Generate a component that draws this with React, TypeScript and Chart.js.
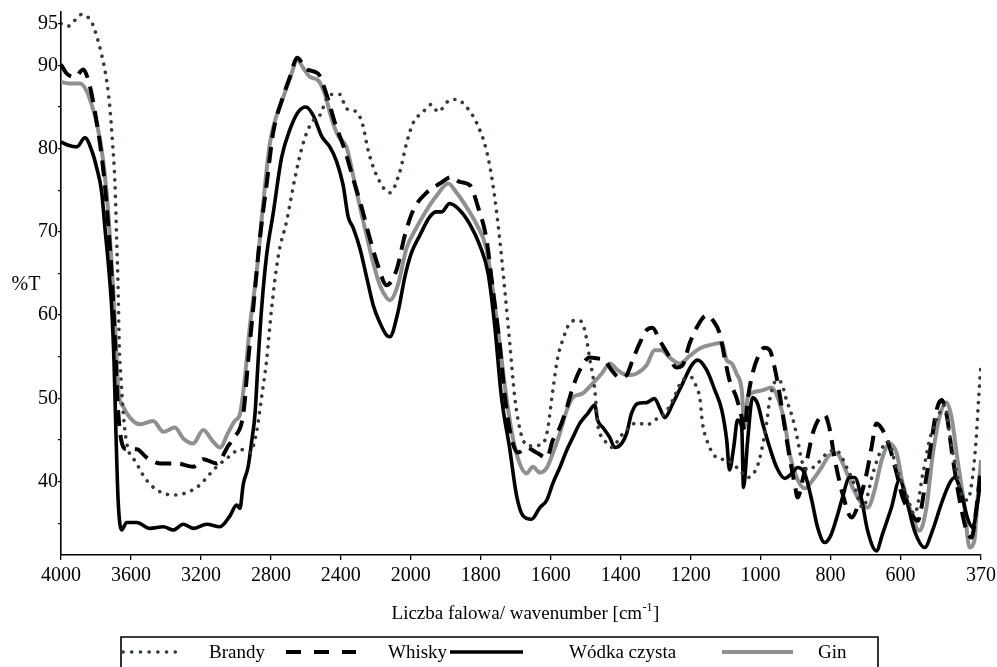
import React, { useEffect, useRef } from 'react';
import { Chart, registerables } from 'chart.js';

Chart.register(...registerables);

// ---- Data (wavenumber in cm-1, transmittance in %T) ----
const brandyWn = [4000,3960,3882,3825,3796,3767,3739,3720,3705,3691,3682,3673,3667,3657,3634,3567,3491,3358,3225,3110,3034,2977,2920,2882,2853,2825,2796,2758,2710,2663,2616,2568,2520,2463,2406,2368,2310,2273,2244,2196,2120,2063,2025,1993,1965,1941,1922,1893,1869,1841,1812,1784,1765,1746,1731,1717,1703,1684,1660,1631,1611,1594,1580,1566,1546,1523,1509,1497,1489,1474,1466,1454,1440,1423,1403,1383,1354,1326,1303,1274,1251,1223,1197,1183,1174,1166,1154,1126,1097,1060,1037,1011,997,983,974,954,940,926,909,894,883,866,837,811,789,774,754,737,708,679,660,636,612,584,560,536,517,489,474,460,441,422,408,393,384,377,371];
const brandyT = [95.0,94.7,96.1,95.2,93.5,91.2,88.2,84.8,80.6,75.6,69.2,62.9,56.6,52.4,46.0,42.2,39.7,38.4,39.3,41.8,43.1,43.9,43.5,46.0,50.2,54.5,60.8,67.1,71.3,76.4,80.6,83.1,84.0,86.5,86.5,84.8,84.4,82.7,79.8,76.8,74.7,77.2,80.6,83.1,84.4,85.3,84.4,85.7,85.9,85.0,83.1,79.8,75.6,69.2,62.9,56.6,50.2,45.6,44.3,44.4,45.8,51.0,54.9,57.0,59.0,59.4,59.0,57.0,54.9,51.0,47.0,45.3,44.7,44.1,45.3,46.2,47.1,46.8,47.4,48.2,49.8,52.2,52.5,51.3,50.1,47.0,45.0,42.9,42.6,41.4,40.5,41.7,43.8,47.0,49.8,52.2,51.8,49.8,47.7,45.0,42.6,41.4,42.2,43.4,43.8,43.4,41.7,40.2,36.9,41.0,43.4,44.8,41.7,38.6,36.1,41.0,45.0,48.2,49.2,45.8,41.4,38.1,37.8,41.0,45.0,49.8,53.6];

const whiskyWn = [4000,3967,3920,3873,3834,3806,3777,3749,3724,3705,3691,3678,3663,3625,3567,3510,3434,3339,3244,3187,3110,3044,3015,2958,2930,2901,2863,2825,2787,2739,2691,2650,2596,2530,2482,2434,2377,2330,2282,2234,2187,2139,2082,2034,1993,1955,1917,1884,1860,1831,1808,1784,1765,1746,1731,1712,1693,1669,1641,1611,1594,1574,1554,1537,1517,1489,1466,1446,1426,1403,1383,1366,1346,1326,1309,1289,1266,1240,1223,1203,1183,1154,1137,1117,1103,1089,1069,1054,1046,1037,1023,1003,989,974,960,946,931,917,903,894,880,866,851,831,817,803,789,766,740,717,697,683,669,651,631,611,594,569,551,531,511,497,483,469,451,431,411,397,383,371];
const whiskyT = [90.1,89.0,88.6,89.5,87.4,84.4,80.6,75.6,69.2,62.9,56.6,50.2,46.0,43.9,43.9,42.9,42.2,42.2,41.8,42.7,42.2,44.3,45.2,48.1,54.5,60.8,69.2,75.6,81.9,85.7,88.6,90.9,89.5,89.0,86.5,83.1,79.8,76.4,73.0,69.2,65.9,63.6,65.4,69.6,72.6,74.7,75.8,76.6,76.0,75.6,73.0,69.2,62.9,56.6,50.2,45.2,43.5,44.1,43.5,42.9,45.0,46.5,48.9,51.3,53.4,54.9,54.8,54.6,53.4,52.5,52.8,54.6,56.6,58.2,58.5,57.0,55.4,53.7,54.0,56.6,58.5,60.0,59.4,57.8,54.9,52.2,50.1,47.7,46.2,49.8,53.0,55.4,56.1,55.8,53.7,50.6,46.5,42.9,39.8,38.1,40.2,42.9,45.8,47.7,48.0,46.4,42.9,38.6,35.7,37.8,41.0,44.1,47.0,46.2,44.1,41.0,38.1,36.2,35.3,39.3,45.0,48.6,49.8,48.2,42.9,37.8,34.1,33.3,36.9,41.4];

const wodkaWn = [4000,3958,3910,3863,3825,3796,3767,3749,3730,3710,3697,3686,3673,3653,3625,3567,3491,3415,3358,3301,3244,3167,3091,3034,2996,2977,2958,2930,2910,2891,2873,2853,2825,2787,2739,2691,2644,2600,2558,2510,2463,2425,2387,2358,2330,2291,2253,2215,2177,2139,2120,2073,2034,1998,1974,1946,1927,1912,1889,1860,1831,1803,1779,1760,1741,1717,1698,1679,1655,1631,1611,1594,1574,1554,1537,1517,1494,1474,1466,1451,1431,1417,1397,1383,1369,1351,1326,1303,1289,1274,1251,1223,1197,1180,1154,1131,1111,1097,1089,1077,1066,1054,1049,1037,1023,1009,994,974,954,931,911,894,874,854,837,817,800,783,766,746,731,711,694,669,651,626,603,583,560,531,509,483,460,446,426,409,394,380,371];
const wodkaT = [80.8,80.4,80.2,81.3,79.8,77.7,74.7,70.5,66.3,60.8,54.5,46.0,37.6,34.2,35.1,35.1,34.4,34.6,34.2,34.9,34.4,34.9,34.6,35.9,37.2,36.8,39.7,41.8,44.8,48.1,54.5,60.8,67.1,72.2,78.9,82.3,84.4,85.0,84.0,81.5,80.2,78.5,75.6,71.8,70.5,68.0,64.6,61.2,59.1,57.6,57.4,60.4,64.6,67.5,69.6,71.8,72.4,72.4,73.4,72.6,70.9,68.4,65.0,58.7,50.2,43.9,38.4,35.9,35.5,36.9,37.8,39.8,41.7,43.8,45.3,47.0,48.2,49.2,47.4,46.5,45.3,44.1,44.6,45.8,48.2,49.4,49.5,50.0,48.9,47.7,49.4,51.8,54.0,54.6,53.4,51.0,48.6,45.0,41.4,44.1,47.4,46.5,39.3,45.0,50.1,49.4,47.0,44.1,41.7,40.4,41.0,41.7,41.0,37.8,34.5,32.7,33.5,35.6,38.1,40.5,40.5,37.8,34.1,31.7,33.8,36.9,40.2,37.8,34.1,32.1,34.1,37.4,39.8,40.5,38.6,35.7,34.5,37.4,40.2];

const ginWn = [4000,3949,3891,3853,3825,3796,3767,3739,3720,3701,3686,3673,3644,3606,3549,3473,3415,3349,3301,3244,3187,3130,3091,3044,3006,2977,2949,2920,2882,2844,2806,2767,2730,2682,2650,2616,2577,2530,2491,2453,2415,2368,2330,2291,2253,2215,2177,2139,2120,2073,2025,1984,1955,1927,1893,1869,1841,1812,1784,1765,1746,1727,1708,1689,1669,1651,1631,1611,1594,1574,1554,1537,1509,1480,1454,1431,1409,1383,1354,1326,1303,1283,1260,1231,1203,1174,1146,1111,1097,1083,1069,1054,1046,1037,1023,994,969,951,931,917,897,874,851,826,803,783,760,737,711,694,674,654,631,611,594,569,546,526,509,489,469,454,437,417,403,389,380,370];
const ginT = [88.0,87.8,87.8,86.9,85.3,83.1,79.8,74.7,69.2,62.9,56.6,51.1,49.0,47.7,46.9,47.3,46.0,46.5,45.2,44.6,46.2,44.8,44.1,45.9,47.3,48.1,52.4,58.7,65.0,73.4,80.6,84.0,86.1,89.0,90.7,89.7,88.6,88.2,86.5,83.6,81.5,80.2,76.8,73.0,69.6,66.3,63.6,62.1,61.8,63.7,68.0,70.5,72.6,74.3,75.8,74.7,73.0,70.9,68.0,62.9,56.6,50.2,45.2,42.2,41.0,41.8,41.1,41.7,43.4,45.8,48.6,50.1,50.6,51.8,53.0,54.2,53.4,52.8,53.0,54.0,55.8,55.8,54.9,54.2,55.1,56.0,56.4,56.7,54.6,54.2,53.0,51.0,46.5,50.1,50.7,51.0,51.3,50.1,47.0,43.4,40.5,39.2,40.2,41.7,43.2,43.4,41.7,39.3,37.4,36.9,39.0,42.6,44.6,43.4,39.8,36.2,34.1,36.9,42.9,47.7,49.5,47.7,42.6,36.9,32.1,32.9,37.8,42.6];

const seriesNames = ['Brandy', 'Whisky', 'Wódka czysta', 'Gin'];
const xTickLabels = [4000, 3600, 3200, 2800, 2400, 2000, 1800, 1600, 1400, 1200, 1000, 800, 600, 370];
const yTickValues = [35, 40, 45, 50, 55, 60, 65, 70, 75, 80, 85, 90, 95];
const yLabelledValues = [40, 50, 60, 70, 80, 90, 95];
const yTitle = '%T';
const xTitleMain = 'Liczba falowa/ wavenumber [cm';
const xTitleSup = '-1';
const xTitleEnd = ']';

// Axis scale changes at 2000 cm-1 (expanded 2x below 2000)
function pos(w: number): number {
  return w >= 2000 ? (4000 - w) / 400 : 5 + (2000 - w) / 200;
}

const FONT = '"Liberation Serif", "Times New Roman", serif';

function toPoints(wn: number[], t: number[]) {
  return wn.map((w, i) => ({ x: pos(w), y: t[i] }));
}

// legend layout (pixels)
const legendBox = { left: 121, top: 637, right: 878 };
const legendSamples = [[123, 182], [286, 356], [450, 523], [722, 793]];
const legendTextX = [209, 388, 569, 818];
const legendY = 652;

const decorPlugin = {
  id: 'decor',
  afterDraw(chart: any) {
    const ctx = chart.ctx as CanvasRenderingContext2D;
    const ca = chart.chartArea;
    ctx.save();
    ctx.fillStyle = '#000';
    // y title
    ctx.font = `20px ${FONT}`;
    ctx.textAlign = 'center';
    ctx.textBaseline = 'middle';
    ctx.fillText(yTitle, 26, 285);

    // x title with superscript
    const big = `19px ${FONT}`;
    const small = `12px ${FONT}`;
    ctx.font = big;
    const wa = ctx.measureText(xTitleMain).width;
    const wb = ctx.measureText(xTitleEnd).width;
    ctx.font = small;
    const ws = ctx.measureText(xTitleSup).width;
    const cx = (ca.left + ca.right) / 2 + 4;
    const x0 = cx - (wa + ws + wb) / 2;
    const by = 619;
    ctx.textAlign = 'left';
    ctx.textBaseline = 'alphabetic';
    ctx.font = big;
    ctx.fillText(xTitleMain, x0, by);
    ctx.font = small;
    ctx.fillText(xTitleSup, x0 + wa + 0.5, by - 8);
    ctx.font = big;
    ctx.fillText(xTitleEnd, x0 + wa + ws + 1, by);

    // legend box
    ctx.strokeStyle = '#000';
    ctx.lineWidth = 1.6;
    ctx.beginPath();
    ctx.moveTo(legendBox.left, 700);
    ctx.lineTo(legendBox.left, legendBox.top);
    ctx.lineTo(legendBox.right, legendBox.top);
    ctx.lineTo(legendBox.right, 700);
    ctx.stroke();

    // legend items
    chart.data.datasets.forEach((ds: any, i: number) => {
      const [s0, s1] = legendSamples[i];
      ctx.save();
      ctx.strokeStyle = ds.borderColor;
      ctx.lineWidth = ds.borderWidth;
      ctx.lineCap = ds.borderCapStyle || 'butt';
      ctx.setLineDash(ds.legendDash || ds.borderDash || []);
      ctx.beginPath();
      ctx.moveTo(s0, legendY);
      ctx.lineTo(s1, legendY);
      ctx.stroke();
      ctx.restore();
      ctx.font = `19px ${FONT}`;
      ctx.fillStyle = '#000';
      ctx.textAlign = 'left';
      ctx.textBaseline = 'middle';
      ctx.fillText(ds.label, legendTextX[i], legendY + 1);
    });
    ctx.restore();
  },
};

export default function App() {
  const canvasRef = useRef<HTMLCanvasElement | null>(null);

  useEffect(() => {
    const canvas = canvasRef.current;
    if (!canvas) return;
    const xTickPos = xTickLabels.map(pos);

    const chart = new Chart(canvas, {
      type: 'line',
      data: {
        datasets: [
          {
            label: seriesNames[0],
            data: toPoints(brandyWn, brandyT),
            borderColor: '#2f3c40',
            borderWidth: 3.6,
            borderDash: [0.1, 8.2],
            legendDash: [0.1, 8.6],
            borderCapStyle: 'round',
            pointRadius: 0,
            cubicInterpolationMode: 'monotone',
          } as any,
          {
            label: seriesNames[1],
            data: toPoints(whiskyWn, whiskyT),
            borderColor: '#000000',
            borderWidth: 4,
            borderDash: [16, 9],
            legendDash: [15, 13],
            borderCapStyle: 'butt',
            pointRadius: 0,
            cubicInterpolationMode: 'monotone',
          } as any,
          {
            label: seriesNames[2],
            data: toPoints(wodkaWn, wodkaT),
            borderColor: '#000000',
            borderWidth: 3.6,
            pointRadius: 0,
            cubicInterpolationMode: 'monotone',
          } as any,
          {
            label: seriesNames[3],
            data: toPoints(ginWn, ginT),
            borderColor: '#8e9092',
            borderWidth: 4,
            pointRadius: 0,
            cubicInterpolationMode: 'monotone',
          } as any,
        ],
      },
      options: {
        responsive: false,
        animation: false,
        devicePixelRatio: 1,
        layout: { padding: { left: 0, right: 16, top: 12, bottom: 0 } },
        plugins: {
          legend: { display: false },
          tooltip: { enabled: false },
          title: { display: false },
        },
        scales: {
          x: {
            type: 'linear',
            min: 0,
            max: pos(370),
            afterFit: (s: any) => { s.height = 112; s.paddingLeft = 0; s.paddingRight = 0; },
            afterBuildTicks: (s: any) => { s.ticks = xTickPos.map((v) => ({ value: v })); },
            ticks: {
              autoSkip: false,
              maxRotation: 0,
              minRotation: 0,
              padding: 4,
              color: '#000',
              font: { family: FONT, size: 20 },
              callback: (_v: any, i: number) => String(xTickLabels[i]),
            },
            grid: { drawOnChartArea: false, drawTicks: true, tickLength: 5, color: '#000', lineWidth: 1.3 },
            border: { display: true, color: '#000', width: 1.6 },
          },
          y: {
            type: 'linear',
            min: 31.2,
            max: 96.4,
            afterFit: (s: any) => { s.width = 61; s.paddingTop = 0; s.paddingBottom = 0; },
            afterBuildTicks: (s: any) => { s.ticks = yTickValues.map((v) => ({ value: v })); },
            ticks: {
              autoSkip: false,
              padding: 0,
              color: '#000',
              font: { family: FONT, size: 20 },
              callback: (v: any) => (yLabelledValues.includes(Number(v)) ? String(v) : ''),
            },
            grid: { drawOnChartArea: false, drawTicks: true, tickLength: 3, color: '#000', lineWidth: 1.3 },
            border: { display: true, color: '#000', width: 1.6 },
          },
        },
      },
      plugins: [decorPlugin],
    });
    return () => chart.destroy();
  }, []);

  return (
    <div style={{ position: 'absolute', left: 0, top: 0, width: 997, height: 667, background: '#fff', overflow: 'hidden' }}>
      <canvas ref={canvasRef} width={997} height={667} style={{ width: 997, height: 667, display: 'block' }} />
    </div>
  );
}
